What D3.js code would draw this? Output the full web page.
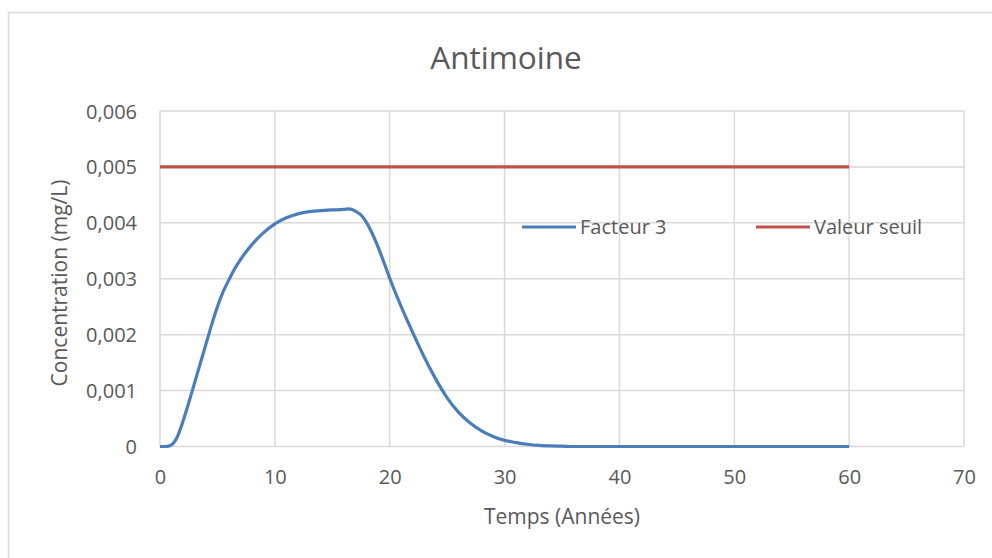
<!DOCTYPE html>
<html>
<head>
<meta charset="utf-8">
<script src="https://cdn.jsdelivr.net/npm/d3@7"></script>
<style>
  html, body { margin: 0; padding: 0; background: #fff; }
  svg { display: block; }
  text { font-family: "Open Sans", "Noto Sans", sans-serif; fill: #595959; }
</style>
</head>
<body>
<svg id="chart" width="992" height="558"></svg>
<script>
// Time axis (years) and concentrations (mg/L) for the Facteur 3 simulation
const years = [0, 0.5, 1, 1.5, 2, 2.5, 3, 3.5, 4, 4.5, 5, 5.5, 6, 6.5, 7, 8, 9, 10, 11, 12, 13, 14, 15, 16,
  16.5, 17, 17.5, 18, 18.5, 19, 19.5, 20, 21, 22, 23, 24, 25, 26, 27, 28, 29, 30, 31, 32, 33, 34, 35, 36,
  40, 45, 50, 55, 60];
const facteur3 = [0, 0, 0.00003, 0.00017, 0.00045, 0.00078, 0.00113, 0.00148, 0.00183, 0.00218, 0.00250,
  0.00277, 0.00298, 0.00318, 0.00334, 0.00361, 0.00382, 0.00398, 0.00409, 0.00416, 0.00420, 0.00422,
  0.00423, 0.00424, 0.00425, 0.00421, 0.00414, 0.00400, 0.00380, 0.00356, 0.00329, 0.00301, 0.00250,
  0.00204, 0.00160, 0.00121, 0.00087, 0.00061, 0.00042, 0.00028, 0.00018, 0.00011, 0.00007, 0.00004,
  0.00002, 0.00001, 0.000005, 0, 0, 0, 0, 0, 0];

// Regulatory threshold, drawn over the same simulated period
const seuilYears = [0, 60];
const seuilValues = [0.005, 0.005];

const xTicks = [0, 10, 20, 30, 40, 50, 60, 70];
const yTicks = [0, 0.001, 0.002, 0.003, 0.004, 0.005, 0.006];

const seriesNames = ["Facteur 3", "Valeur seuil"];
const seriesColors = ["#4a7ebb", "#c0504d"];

const svg = d3.select("#chart");
const plot = { left: 160, right: 964, top: 111, bottom: 446.5 };

// Outer chart frame
svg.append("rect")
  .attr("x", 8.5).attr("y", 12.5)
  .attr("width", 1000).attr("height", 600)
  .attr("fill", "none").attr("stroke", "#d9d9d9").attr("stroke-width", 1.5);

const x = d3.scaleLinear().domain([0, 70]).range([plot.left, plot.right]);
const y = d3.scaleLinear().domain([0, 0.006]).range([plot.bottom, plot.top]);

const fmt = v => v === 0 ? "0" : d3.format(".3f")(v).replace(".", ",");

// Gridlines
const grid = svg.append("g").attr("stroke", "#d9d9d9").attr("stroke-width", 1.5);
grid.selectAll("line.v").data(xTicks).join("line")
  .attr("x1", d => x(d)).attr("x2", d => x(d))
  .attr("y1", plot.top).attr("y2", plot.bottom);
grid.selectAll("line.h").data(yTicks).join("line")
  .attr("x1", plot.left).attr("x2", plot.right)
  .attr("y1", d => y(d)).attr("y2", d => y(d));

// Axes (labels only; grid provides the lines)
const xAxis = svg.append("g")
  .attr("transform", `translate(0,${plot.bottom})`)
  .call(d3.axisBottom(x).tickValues(xTicks).tickFormat(d3.format("d")).tickSize(0).tickPadding(25));
const yAxis = svg.append("g")
  .attr("transform", `translate(${plot.left},0)`)
  .call(d3.axisLeft(y).tickValues(yTicks).tickFormat(fmt).tickSize(0).tickPadding(23));
[xAxis, yAxis].forEach(a => {
  a.select(".domain").remove();
  a.selectAll("text").attr("font-size", 20).attr("fill", "#595959")
    .style("font-family", "'Open Sans', sans-serif");
});
yAxis.selectAll("text").attr("dy", "0.35em");
xAxis.selectAll("text").attr("dy", "0.71em").attr("y", 23);

// Series lines
const line = d3.line().x(d => x(d[0])).y(d => y(d[1])).curve(d3.curveMonotoneX);

svg.append("path")
  .datum(d3.zip(years, facteur3))
  .attr("fill", "none").attr("stroke", seriesColors[0]).attr("stroke-width", 3.2)
  .attr("stroke-linejoin", "round").attr("d", line);

svg.append("path")
  .datum(d3.zip(seuilYears, seuilValues))
  .attr("fill", "none").attr("stroke", seriesColors[1]).attr("stroke-width", 3.2)
  .attr("d", line);

// Legend
const legendX = [522, 756];
const legendY = 227;
seriesNames.forEach((name, i) => {
  svg.append("line")
    .attr("x1", legendX[i]).attr("x2", legendX[i] + 54)
    .attr("y1", legendY).attr("y2", legendY)
    .attr("stroke", seriesColors[i]).attr("stroke-width", 3.2);
  svg.append("text")
    .attr("x", legendX[i] + 58).attr("y", legendY).attr("dy", "0.35em")
    .attr("font-size", 20).text(name);
});

// Titles
svg.append("text")
  .attr("x", 506).attr("y", 69).attr("text-anchor", "middle")
  .attr("font-size", 31.5).text("Antimoine");

svg.append("text")
  .attr("x", 562).attr("y", 524).attr("text-anchor", "middle")
  .attr("font-size", 21).text("Temps (Années)");

svg.append("text")
  .attr("transform", "translate(67,283) rotate(-90)")
  .attr("text-anchor", "middle")
  .attr("font-size", 21).text("Concentration (mg/L)");
</script>
</body>
</html>
